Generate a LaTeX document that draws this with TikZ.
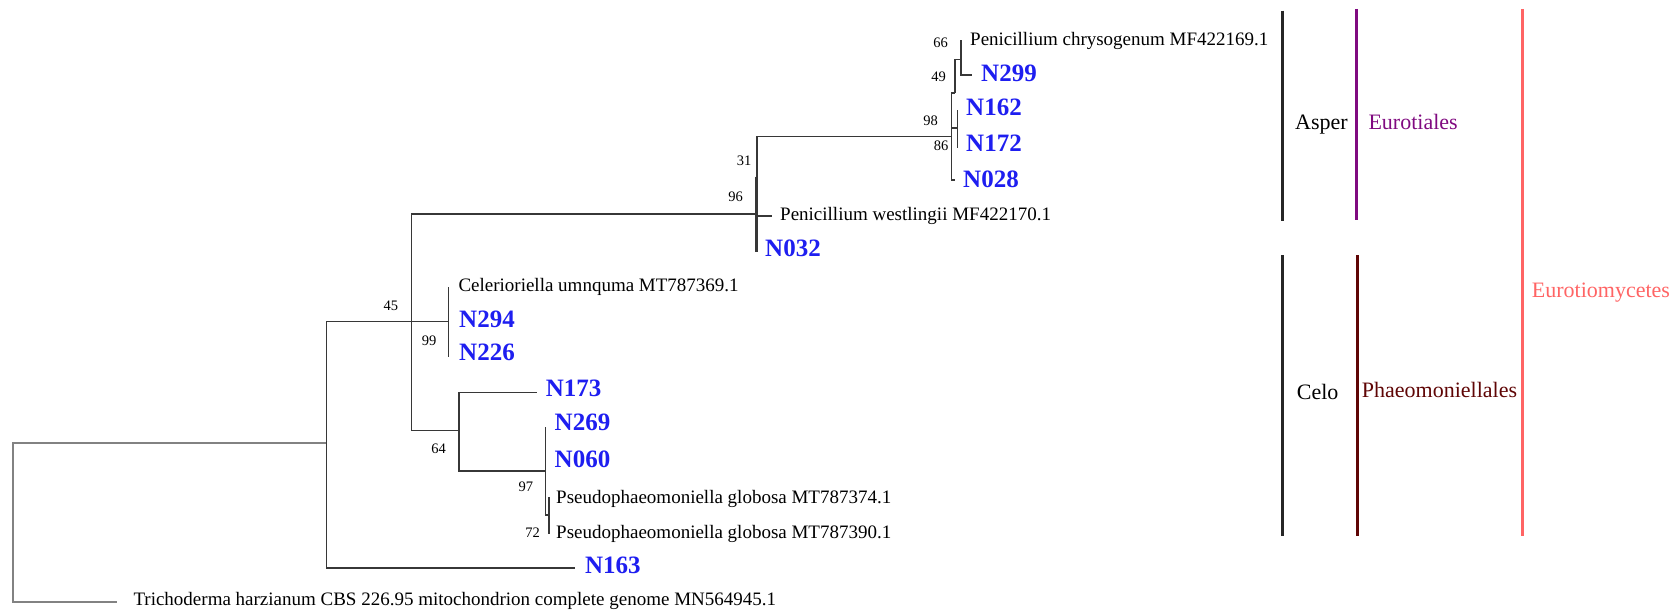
\documentclass[tikz,border=0pt]{standalone}
\usepackage{fontspec}
\setmainfont{Liberation Serif}
\definecolor{treeline}{RGB}{55,55,55}
\definecolor{rootline}{RGB}{130,130,130}
\definecolor{isoblue}{RGB}{30,30,240}
\definecolor{ordpurple}{RGB}{128,10,128}
\definecolor{orddark}{RGB}{95,5,5}
\definecolor{classpink}{RGB}{255,100,100}
\tikzset{
  treeedge/.style={draw=treeline, line width=1.5pt},
  rootedge/.style={draw=rootline, line width=2pt},
  taxon/.style={anchor=base west, inner sep=0pt, font=\fontsize{19}{19}\selectfont},
  isolate/.style={anchor=base west, inner sep=0pt, text=isoblue, font=\fontsize{25}{25}\selectfont\bfseries},
  bootval/.style={anchor=center, inner sep=0pt, font=\fontsize{14.5}{14.5}\selectfont},
  cladetext/.style={anchor=base west, inner sep=0pt, font=\fontsize{22}{22}\selectfont},
  cladebar/.style={line width=2.6pt}
}
\begin{document}
\begin{tikzpicture}[x=1pt,y=-1pt]
\useasboundingbox (0,0) rectangle (1677,612);

% internal nodes of the tree (x = node depth, y = where the parent joins)
\coordinate (r) at (13.3,522);
\coordinate (a) at (326.7,443);
\coordinate (b) at (411.7,321.7);
\coordinate (c) at (757,214);
\coordinate (c2) at (755.6,176.7);
\coordinate (d) at (448.3,321.7);
\coordinate (e) at (459,430.7);
\coordinate (f) at (545.7,471);
\coordinate (g) at (549,515);
\coordinate (i) at (951.7,136.7);
\coordinate (j) at (955,93);
\coordinate (k) at (957.5,128);
\coordinate (l) at (961,59.3);

% branch tips
\coordinate (tTri) at (116.7,602);
\coordinate (t163) at (575.4,568);
\coordinate (tCel) at (448.3,286.7);
\coordinate (t294) at (448.3,321.7);
\coordinate (t226) at (448.3,357.3);
\coordinate (t173) at (536.7,392.3);
\coordinate (t269) at (545.7,426.7);
\coordinate (tP374) at (549,497.3);
\coordinate (tP390) at (549,534);
\coordinate (tWes) at (771.7,216);
\coordinate (t032) at (757,252);
\coordinate (t028) at (955,180);
\coordinate (tChr) at (961,40);
\coordinate (t299) at (971.7,75);
\coordinate (t162) at (957.5,110);
\coordinate (t172) at (957.5,148);

% root and outgroup
\draw[rootedge] (r) |- (a);
\draw[rootedge] (r) |- (tTri);

% ingroup branches
\draw[treeedge] (a) |- (t163);
\draw[treeedge] (a) |- (b);
\draw[treeedge] (b) |- (c);
\draw[treeedge] (b) |- (d);
\draw[treeedge] (b) |- (e);
\draw[treeedge] (d) |- (tCel);
\draw[treeedge] (d) |- (t226);
\draw[treeedge] (e) |- (t173);
\draw[treeedge] (e) |- (f);
\draw[treeedge] (f) |- (t269);
\draw[treeedge] (f) |- (g);
\draw[treeedge] (g) |- (tP374);
\draw[treeedge] (g) |- (tP390);
\draw[treeedge] (c) |- (i);
\draw[treeedge] (c) |- (tWes);
\draw[treeedge] (c) |- (t032);
\draw[treeedge] (c2) -- (c2 |- t032);
\draw[treeedge] (i) |- (j);
\draw[treeedge] (i) |- (k);
\draw[treeedge] (i) |- (t028);
\draw[treeedge] (j) |- (l);
\draw[treeedge] (l) |- (tChr);
\draw[treeedge] (l) |- (t299);
\draw[treeedge] (k) |- (t162);
\draw[treeedge] (k) |- (t172);

% reference sequences
\node[taxon] (lChr) at (970,45.7) {Penicillium chrysogenum MF422169.1};
\node[taxon] (lWes) at (780,220.7) {Penicillium westlingii MF422170.1};
\node[taxon] (lCel) at (458.3,291.7) {Celerioriella umnquma MT787369.1};
\node[taxon] (lP374) at (556,503) {Pseudophaeomoniella globosa MT787374.1};
\node[taxon] (lP390) at (556,538) {Pseudophaeomoniella globosa MT787390.1};
\node[taxon] (lTri) at (133.3,605) {Trichoderma harzianum CBS 226.95 mitochondrion complete genome MN564945.1};

% isolates
\node[isolate] (l299) at (981,81.7) {N299};
\node[isolate] (l162) at (966,115.7) {N162};
\node[isolate] (l172) at (966,151.7) {N172};
\node[isolate] (l028) at (963,187.3) {N028};
\node[isolate] (l032) at (765,256.7) {N032};
\node[isolate] (l294) at (459,327.3) {N294};
\node[isolate] (l226) at (459,360.7) {N226};
\node[isolate] (l173) at (545.7,396.7) {N173};
\node[isolate] (l269) at (554.5,430.5) {N269};
\node[isolate] (l060) at (554.5,467) {N060};
\node[isolate] (l163) at (584.8,573) {N163};

% bootstrap support
\node[bootval] (b66) at (940.5,42.7) {66};
\node[bootval] (b49) at (938.5,76.7) {49};
\node[bootval] (b98) at (930.5,120.5) {98};
\node[bootval] (b86) at (941,146) {86};
\node[bootval] (b31) at (744,161) {31};
\node[bootval] (b96) at (735.5,197) {96};
\node[bootval] (b45) at (390.8,305.3) {45};
\node[bootval] (b99) at (429,340.3) {99};
\node[bootval] (b64) at (438.6,448.3) {64};
\node[bootval] (b97) at (525.8,486.7) {97};
\node[bootval] (b72) at (532.5,532.5) {72};

% clade bars and names
\draw[cladebar, draw=black!85] (1282.7,10.7) -- (1282.7,220.7);
\draw[cladebar, draw=black!85] (1282.7,255.4) -- (1282.7,535.7);
\draw[cladebar, draw=ordpurple] (1356.7,9) -- (1356.7,219.6);
\draw[cladebar, draw=orddark] (1357.7,255.4) -- (1357.7,535.7);
\draw[cladebar, draw=classpink] (1522.3,9) -- (1522.3,535.7);
\node[cladetext] (cAsp) at (1295,129.5) {Asper};
\node[cladetext] (cCel) at (1296.7,399.3) {Celo};
\node[cladetext, text=ordpurple] (cEur) at (1368.3,129.3) {Eurotiales};
\node[cladetext, text=orddark] (cPha) at (1361.7,397) {Phaeomoniellales};
\node[cladetext, text=classpink] (cCls) at (1531.7,297) {Eurotiomycetes};
\end{tikzpicture}
\end{document}
